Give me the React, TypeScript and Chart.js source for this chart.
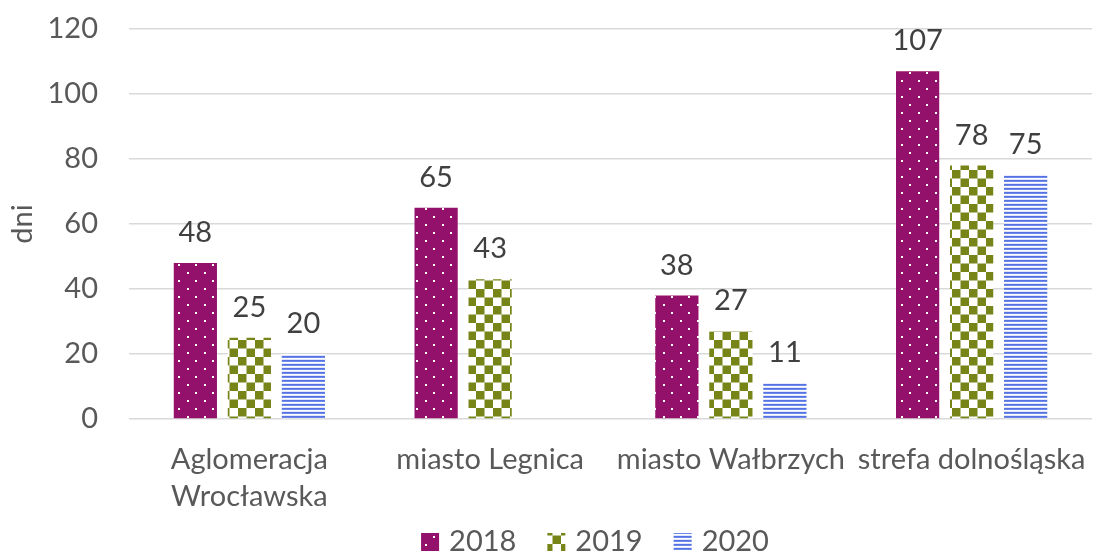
import React, { useEffect, useRef } from "react";
import { Chart, registerables } from "chart.js";

Chart.register(...registerables);

const categories: (string | string[])[] = [
  ["Aglomeracja", "Wrocławska"],
  "miasto Legnica",
  "miasto Wałbrzych",
  "strefa dolnośląska",
];
const seriesNames = ["2018", "2019", "2020"];
const values2018 = [48, 65, 38, 107];
const values2019 = [25, 43, 27, 78];
const values2020: (number | null)[] = [20, null, 11, 75];
const yTicks = [0, 20, 40, 60, 80, 100, 120];
const yTitle = "dni";

const FONT = "Lato, 'Open Sans', sans-serif";
const FS = 29;
const TICK_COLOR = "#595959";
const LABEL_COLOR = "#404040";
const GRID_COLOR = "#d9d9d9";

function makeTile(w: number, h: number, draw: (c: CanvasRenderingContext2D) => void) {
  const cv = document.createElement("canvas");
  cv.width = w;
  cv.height = h;
  const c = cv.getContext("2d")!;
  draw(c);
  return cv;
}

function makePatterns(ctx: CanvasRenderingContext2D) {
  const dots = makeTile(17, 16, (c) => {
    c.fillStyle = "#93106b";
    c.fillRect(0, 0, 17, 16);
    c.fillStyle = "#ffffff";
    c.fillRect(0, 0, 2, 2);
    c.fillRect(8, 8, 2, 2);
  });
  const checks = makeTile(17, 17, (c) => {
    c.fillStyle = "#ffffff";
    c.fillRect(0, 0, 17, 17);
    c.fillStyle = "#768418";
    c.fillRect(0, 0, 8.5, 8.5);
    c.fillRect(8.5, 8.5, 8.5, 8.5);
  });
  const lines = makeTile(4, 4, (c) => {
    c.fillStyle = "#5573e2";
    c.fillRect(0, 0, 4, 1);
    c.fillStyle = "#6d88e8";
    c.fillRect(0, 1, 4, 1);
    c.fillStyle = "#ffffff";
    c.fillRect(0, 2, 4, 1);
    c.fillStyle = "#dfe5fb";
    c.fillRect(0, 3, 4, 1);
  });
  return [
    ctx.createPattern(dots, "repeat")!,
    ctx.createPattern(checks, "repeat")!,
    ctx.createPattern(lines, "repeat")!,
  ];
}

const dataLabelPlugin = {
  id: "dataLabels",
  afterDatasetsDraw(chart: any) {
    const ctx = chart.ctx;
    ctx.save();
    ctx.font = `${FS}px ${FONT}`;
    ctx.fillStyle = LABEL_COLOR;
    ctx.textAlign = "center";
    ctx.textBaseline = "alphabetic";
    chart.data.datasets.forEach((ds: any, di: number) => {
      const meta = chart.getDatasetMeta(di);
      meta.data.forEach((el: any, i: number) => {
        const v = ds.data[i];
        if (v === null || v === undefined) return;
        ctx.fillText(String(v), el.x, el.y - 21);
      });
    });
    ctx.restore();
  },
};

const customLegendPlugin = {
  id: "customLegend",
  afterDraw(chart: any) {
    const ctx = chart.ctx;
    ctx.save();
    ctx.font = `${FS}px ${FONT}`;
    const box = 18;
    const gapText = 10;
    const gapItem = 31;
    const items = chart.data.datasets.map((ds: any) => ({
      label: ds.label,
      fill: ds.backgroundColor,
      w: ctx.measureText(ds.label).width,
    }));
    let total = 0;
    items.forEach((it: any, i: number) => {
      total += box + gapText + it.w + (i < items.length - 1 ? gapItem : 0);
    });
    let x = 595 - total / 2;
    const baseY = 551;
    items.forEach((it: any) => {
      ctx.fillStyle = it.fill;
      ctx.fillRect(x, baseY - box, box, box);
      ctx.fillStyle = TICK_COLOR;
      ctx.textAlign = "left";
      ctx.textBaseline = "alphabetic";
      ctx.fillText(it.label, x + box + gapText, baseY);
      x += box + gapText + it.w + gapItem;
    });
    ctx.restore();
  },
};

export default function App() {
  const ref = useRef<HTMLCanvasElement | null>(null);
  useEffect(() => {
    const canvas = ref.current!;
    const ctx = canvas.getContext("2d")!;
    const patterns = makePatterns(ctx);
    const seriesData = [values2018, values2019, values2020];
    const chart = new Chart(canvas, {
      type: "bar",
      data: {
        labels: categories,
        datasets: seriesNames.map((name, i) => ({
          label: name,
          data: seriesData[i],
          backgroundColor: patterns[i],
          borderWidth: 0,
          categoryPercentage: 0.673,
          barPercentage: 0.8,
        })),
      },
      options: {
        animation: false,
        responsive: true,
        maintainAspectRatio: false,
        layout: { padding: { top: 29, right: 4, left: 0, bottom: 0 } },
        plugins: {
          legend: { display: false },
          tooltip: { enabled: false },
        },
        scales: {
          x: {
            grid: { display: false, drawTicks: false },
            border: { display: false },
            ticks: {
              color: TICK_COLOR,
              font: { family: FONT, size: FS, lineHeight: 1.28 },
              padding: 22,
              autoSkip: false,
              maxRotation: 0,
              minRotation: 0,
            },
            afterFit(scale: any) {
              scale.height = 135;
              scale.paddingLeft = 0;
              scale.paddingRight = 0;
              scale.paddingTop = 0;
              scale.paddingBottom = 0;
            },
          },
          y: {
            min: 0,
            max: 120,
            afterBuildTicks(scale: any) {
              scale.ticks = yTicks.map((v) => ({ value: v }));
            },
            grid: { color: GRID_COLOR, lineWidth: 1.5, drawTicks: false },
            border: { display: false },
            ticks: {
              color: TICK_COLOR,
              font: { family: FONT, size: FS },
              padding: 31,
            },
            title: {
              display: true,
              text: yTitle,
              color: TICK_COLOR,
              font: { family: FONT, size: FS },
              padding: { top: 5, bottom: 0 },
            },
            afterFit(scale: any) {
              scale.width = 129;
              scale.paddingLeft = 0;
              scale.paddingRight = 0;
              scale.paddingTop = 0;
              scale.paddingBottom = 0;
            },
          },
        },
      },
      plugins: [dataLabelPlugin, customLegendPlugin],
    } as any);
    return () => chart.destroy();
  }, []);
  return (
    <div style={{ position: "absolute", left: 0, top: 0, width: 1096, height: 554 }}>
      <canvas ref={ref} />
    </div>
  );
}
